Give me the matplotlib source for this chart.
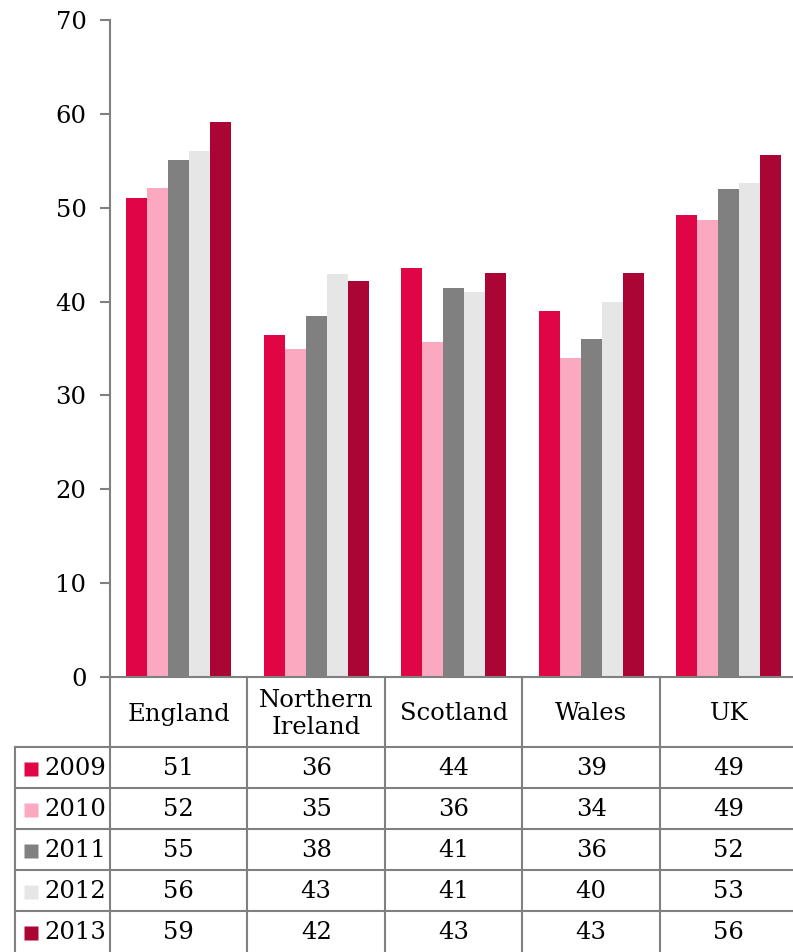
from matplotlib import pyplot as plt
import numpy as np

# Data
regions = ['England', 'Northern\nIreland', 'Scotland', 'Wales', 'UK']
years = ['2009', '2010', '2011', '2012', '2013']
v2009 = [51.0, 36.4, 43.6, 39.0, 49.2]
v2010 = [52.1, 34.9, 35.7, 34.0, 48.7]
v2011 = [55.1, 38.5, 41.4, 36.0, 52.0]
v2012 = [56.0, 42.9, 41.0, 40.0, 52.6]
v2013 = [59.1, 42.2, 43.0, 43.0, 55.6]
series = [v2009, v2010, v2011, v2012, v2013]
colors = ['#E00646', '#FBA9C1', '#808080', '#E6E6E6', '#AA0535']

# Settings
W, H = 793, 952
GRID = '#808080'
FONT = 'DejaVu Serif'
FS = 17.5

plt.rcParams['font.family'] = FONT

fig = plt.figure(figsize = (W / 100, H / 100), dpi = 100)

# Bar chart
ax = fig.add_axes([110 / W, (H - 677) / H, 687.5 / W, 657 / H])
x = np.arange(len(regions))
barW = 21 / 137.5
for k, vals in enumerate(series):
    ax.bar(x + (k - 2) * barW, vals, width = barW, color = colors[k], linewidth = 0)

ax.set_xlim(-0.5, len(regions) - 0.5)
ax.set_ylim(0, 70)
ax.set_yticks(range(0, 71, 10))
ax.set_xticks([])
ax.tick_params(axis = 'y', direction = 'out', length = 7, width = 1.5, color = GRID, labelsize = FS, pad = 10)
for side in ['top', 'right']:
    ax.spines[side].set_visible(False)
for side in ['left', 'bottom']:
    ax.spines[side].set_color(GRID)
    ax.spines[side].set_linewidth(1.5)

# Data table
labW = 95 / 137.5
tax = fig.add_axes([15 / W, 0, 782.5 / W, 275 / H])
tax.set_xlim(-0.5 - labW, len(regions) - 0.5)
tax.set_ylim(275, 0)
tax.axis('off')

headH, rowH = 70, 41
lw = 1.5
for i in range(len(regions)):
    tax.plot([i - 0.5, i - 0.5], [0, 275], color = GRID, lw = lw, clip_on = False)
    tax.text(i, headH / 2 + 2, regions[i], ha = 'center', va = 'center', fontsize = FS, linespacing = 1.25)
tax.plot([-0.5 - labW, -0.5 - labW], [headH, 275], color = GRID, lw = lw, clip_on = False)

for k in range(len(years)):
    y0 = headH + k * rowH
    tax.plot([-0.5 - labW, len(regions) - 0.5], [y0, y0], color = GRID, lw = lw, clip_on = False)
    yc = y0 + rowH / 2 + 1
    tax.plot([-0.5 - labW + 16 / 137.5], [yc], marker = 's', ms = 10, color = colors[k], mec = 'none')
    tax.text(-0.5 - labW + 29 / 137.5, yc, years[k], ha = 'left', va = 'center', fontsize = FS)
    for i in range(len(regions)):
        tax.text(i, yc, f'{series[k][i]:.0f}', ha = 'center', va = 'center', fontsize = FS)

fig.savefig('out.png', dpi = 100)
